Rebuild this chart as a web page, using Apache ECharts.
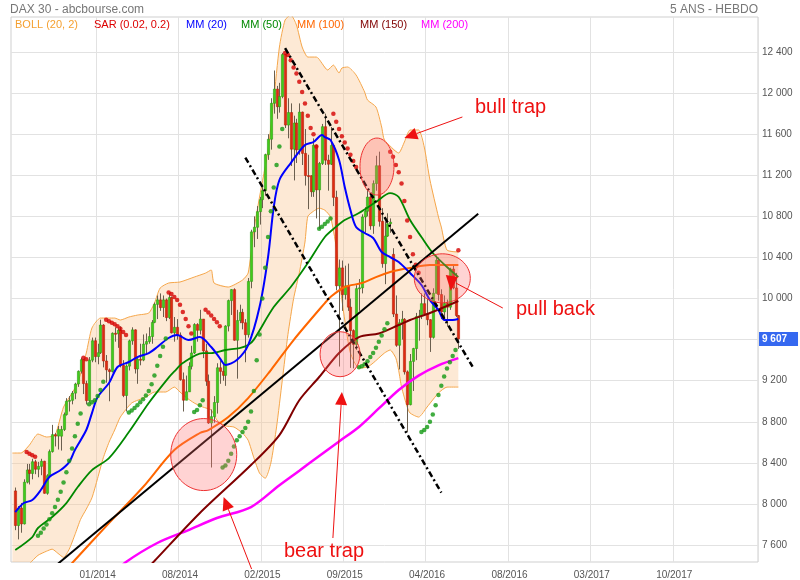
<!DOCTYPE html>
<html><head><meta charset="utf-8">
<script src="https://cdn.jsdelivr.net/npm/echarts@6/dist/echarts.min.js"></script>
<style>html,body{margin:0;padding:0;background:#fff}#c{width:800px;height:580px}</style>
</head><body><div id="c"></div>
<script>
// ---------- DATA (weekly, index 1 = week of 17/06/2013) ----------
const SLOTS = 263;
const FIRST = 1;
const tickIndex  = [30, 59, 88, 117, 146, 175, 204, 233];
const tickLabels = ['01/2014','08/2014','02/2015','09/2015','04/2016','08/2016','03/2017','10/2017'];

const opens = [8127,7790,7960,7806,8212,8331,8297,8411,8338,8366,
8416,8104,8275,8510,8675,8661,8660,8725,8870,9001,
9009,9079,9168,9292,9405,9172,9006,9400,9589,9435,
9473,9742,9392,9306,9289,9662,9657,9692,9350,9056,
9342,9588,9695,9315,9409,9401,9556,9581,9630,9768,
9943,9987,9912,9987,9815,10009,9666,9720,9644,9210,
9010,9092,9340,9470,9747,9691,9800,9490,9195,8788,
8850,8988,9326,9291,9252,9732,9980,10087,9594,9786,
9865,9764,9648,10167,10649,10694,10846,10963,11050,11401,
11551,11901,12039,11868,11967,12375,11689,11811,11454,11709,
11447,11815,11413,11197,11196,11040,11492,11058,11315,11673,
11347,11308,11490,10985,10124,10298,10038,10123,9916,9688,
9553,10096,10104,10794,10850,10988,10708,11119,11293,10752,
10340,10608,10728,10430,9849,9545,9764,9798,9286,8967,
9388,9513,9824,9831,9950,9851,9794,9622,10051,10373,
10039,9870,9952,9916,10287,10103,9834];
const closes = [7790,7959,7806,8212,8331,8297,8411,8338,8366,8416,
8104,8275,8510,8675,8661,8725,8725,8870,9001,9009,
9079,9168,9292,9405,9172,9006,9400,9589,9435,9473,
9742,9392,9306,9289,9662,9657,9692,9350,9056,9342,
9588,9695,9315,9409,9401,9556,9581,9630,9768,9943,
9987,9912,9987,9815,10009,9666,9720,9644,9210,9010,
9092,9340,9470,9747,9691,9800,9490,9195,8788,8850,
8988,9326,9291,9252,9732,9980,10087,9594,9786,9865,
9764,9648,10167,10649,10694,10846,10963,11050,11401,11551,
11901,12039,11868,11967,12375,11689,11811,11454,11709,11447,
11815,11413,11197,11196,11040,11492,11058,11315,11673,11347,
11308,11490,10985,10124,10298,10038,10123,9916,9688,9553,
10096,10104,10794,10850,10988,10708,11119,11293,10752,10340,
10608,10728,10743,9849,9545,9764,9798,9286,8967,9388,
9513,9824,9831,9950,9851,9794,9622,10051,10373,10039,
9870,9952,9916,10287,10103,9834,9607];
const highs = [8160,7980,8010,8240,8390,8390,8440,8430,8410,8440,
8420,8290,8530,8770,8690,8760,8760,8890,9030,9050,
9100,9180,9300,9424,9410,9200,9430,9620,9620,9560,
9794,9750,9450,9320,9670,9720,9710,9730,9400,9360,
9600,9720,9700,9430,9560,9650,9660,9720,9790,9960,
10030,10050,10030,10000,10050,10020,9820,9800,9670,9280,
9250,9380,9540,9760,9760,9890,9800,9560,9260,8920,
9050,9370,9400,9370,9740,9990,10090,10100,9890,9940,
9900,9800,10200,10670,10800,10900,10990,11110,11410,11600,
11950,12220,12070,12100,12390,12380,11950,11900,11780,11750,
11900,11820,11650,11400,11200,11560,11500,11330,11700,11800,
11400,11670,11500,11050,10380,10370,10320,10340,10000,9700,
10130,10190,10820,10890,11050,11000,11150,11390,11430,10880,
10750,10830,10780,10490,10030,9800,9880,9810,9300,9460,
9520,9860,9890,10050,10050,10000,9800,10100,10420,10400,
10090,10030,9990,10300,10330,10250,9840];
const lows = [7745,7655,7720,7800,8200,8190,8240,8290,8260,8280,
8100,8090,8270,8500,8560,8530,8520,8710,8860,8900,
8970,9020,9140,9270,9070,8970,8990,9380,9380,9360,
9460,9330,9180,9000,9280,9580,9520,9330,9040,8900,
9300,9550,9270,9170,9350,9390,9450,9560,9560,9760,
9800,9880,9820,9780,9800,9660,9580,9600,9200,8900,
9010,9090,9310,9460,9580,9650,9420,9150,8780,8355,
8790,8880,9170,9200,9150,9680,9840,9590,9220,9760,
9700,9380,9620,10100,10500,10580,10720,10880,11000,11350,
11450,11800,11750,11810,11950,11660,11560,11290,11150,11320,
11400,11300,11100,10870,10990,10990,10780,10677,11300,11300,
11050,11300,10900,10080,9338,9880,9990,9880,9325,9320,
9500,9880,10050,10640,10800,10670,10630,11050,10700,10300,
10140,10600,10640,9820,9530,9310,9600,9260,8699,8960,
9100,9400,9590,9800,9840,9740,9480,9610,10050,9980,
9800,9790,9730,9890,10090,9820,9510];

// indicator readings [week index, value]
const mm20 = [[1,7921],[4,8009],[7,8038],[10,8136],[13,8262],[17,8330],[20,8408],[22,8525],[26,8720],[28,8885],[30,9041],[34,9177],[37,9333],[41,9382],[44,9430],[48,9469],[51,9528],[55,9616],[58,9645],[62,9596],[66,9625],[70,9528],[73,9421],[75,9353],[79,9401],[83,9547],[87,9917],[90,10404],[92,10891],[94,11154],[98,11319],[103,11495],[106,11524],[109,11592],[110,11572],[112,11543],[115,11349],[117,11086],[119,10862],[121,10696],[124,10638],[127,10589],[130,10453],[133,10404],[136,10355],[140,10248],[144,10132],[147,9985],[150,9888],[152,9791],[155,9791],[157,9800]];
const mm50 = [[1,7551],[7,7678],[9,7766],[14,7873],[19,8009],[23,8165],[28,8330],[34,8447],[41,8700],[48,8983],[55,9230],[57,9290],[60,9372],[67,9469],[70,9469],[75,9499],[80,9518],[83,9547],[85,9600],[92,9917],[98,10112],[104,10346],[110,10599],[114,10700],[117,10764],[122,10832],[128,10940],[133,11027],[136,10988],[140,10764],[144,10599],[148,10443],[153,10307],[157,10209]];
const mm100 = [[18,7334],[22,7454],[34,7814],[46,8165],[57,8525],[66,8691],[69,8720],[76,8846],[83,9031],[91,9304],[99,9596],[110,9956],[112,10015],[117,10112],[123,10151],[128,10209],[133,10258],[136,10278],[140,10297],[147,10326],[157,10326]];
const mm150 = [[45,7300],[50,7445],[66,7912],[84,8379],[94,8671],[101,9010],[108,9236],[115,9470],[122,9625],[129,9660],[136,9742],[140,9791],[147,9859],[157,9976]];
const mm200 = [[36,7330],[40,7435],[51,7620],[62,7746],[72,7863],[84,7970],[94,8183],[101,8324],[108,8467],[115,8609],[122,8750],[129,8930],[136,9110],[143,9250],[150,9350],[157,9420]];
const bollUp = [[0,8496],[3,8496],[6,8574],[9,8681],[12,8652],[15,8671],[18,8944],[21,9080],[23,9178],[26,9470],[28,9713],[31,9810],[36,9810],[38,9791],[41,9820],[44,9839],[48,9859],[50,9956],[52,10102],[55,10151],[59,10161],[64,10209],[68,10248],[70,10278],[71,10151],[76,10112],[81,10180],[83,10248],[85,10667],[87,10988],[90,11446],[92,11933],[94,12449],[96,12712],[98,12760],[100,12663],[102,12449],[104,12351],[107,12351],[111,12225],[113,12273],[115,12196],[116,12244],[118,12254],[121,12176],[124,12011],[125,11933],[128,11865],[130,11670],[131,11543],[136,11417],[138,11524],[140,11641],[143,11641],[145,11475],[147,11154],[150,10794],[151,10696],[153,10472],[157,10453]];
const bollLo = [[0,7330],[3,7360],[6,7420],[9,7500],[12,7540],[14,7560],[16,7520],[18,7480],[20,7560],[22,7700],[24,7850],[26,7950],[28,8060],[30,8250],[32,8450],[34,8600],[36,8720],[38,8846],[42,8983],[47,9041],[50,9090],[54,9090],[57,9138],[59,9090],[61,9041],[64,8983],[67,8944],[70,8914],[72,8817],[75,8760],[78,8749],[81,8690],[83,8620],[85,8450],[87,8300],[89,8250],[91,8400],[93,8750],[95,9200],[97,9650],[99,10000],[101,10250],[103,10550],[104,10800],[106,10850],[108,10880],[110,10860],[112,10794],[114,10500],[115,10200],[117,9791],[119,9470],[122,9323],[125,9333],[127,9372],[131,9470],[133,9499],[135,9420],[136,9300],[137,9138],[139,8944],[140,8885],[143,8846],[146,8944],[150,9080],[153,9138],[157,9138]];
const sarRed = [[5,8505],[6,8490],[7,8475],[8,8460],[25,9424],[26,9410],[33,9794],[34,9780],[35,9765],[36,9750],[37,9730],[38,9705],[39,9675],[40,9645],[55,10060],[56,10045],[57,10015],[58,9985],[59,9940],[60,9870],[61,9800],[62,9730],[63,9660],[68,9890],[69,9865],[70,9835],[71,9800],[72,9770],[73,9730],[96,12390],[97,12370],[98,12320],[99,12250],[100,12190],[101,12110],[102,12010],[103,11900],[104,11780],[105,11660],[106,11600],[107,11480],[113,11800],[114,11720],[115,11650],[116,11580],[117,11520],[118,11460],[119,11400],[120,11340],[121,11280],[133,11430],[134,11380],[135,11300],[136,11230],[137,11120],[138,10950],[139,10760],[140,10600],[141,10430],[142,10330],[143,10250],[157,10470]];
const sarGreen = [[9,7690],[10,7720],[11,7760],[12,7800],[13,7850],[14,7910],[15,7970],[16,8040],[17,8120],[18,8210],[19,8310],[20,8420],[21,8540],[22,8660],[23,8780],[24,8880],[27,8970],[28,8990],[29,9010],[30,9050],[31,9110],[32,9190],[41,8890],[42,8910],[43,8935],[44,8960],[45,8990],[46,9020],[47,9055],[48,9100],[49,9165],[50,9250],[51,9345],[52,9440],[53,9530],[54,9610],[64,8895],[65,8915],[66,8960],[67,9010],[74,8355],[75,8375],[76,8420],[77,8490],[78,8560],[79,8620],[80,8660],[81,8700],[82,8740],[83,8800],[84,8900],[85,9100],[86,9400],[87,9650],[88,10000],[89,10300],[90,10600],[91,10850],[92,11080],[93,11300],[94,11480],[95,11650],[108,10680],[109,10700],[110,10725],[111,10750],[112,10780],[122,9330],[123,9340],[124,9360],[125,9390],[126,9430],[127,9470],[128,9520],[129,9580],[130,9640],[131,9700],[132,9760],[144,8700],[145,8720],[146,8750],[147,8800],[148,8870],[149,8960],[150,9060],[151,9150],[152,9240],[153,9320],[154,9380],[155,9440],[156,9500]];
const lastPrice = 9607;
// hand-drawn trend lines (week index, level)
const trendUp   = [[10,7279],[164,10826]];
const trendDn1  = [[82,11373],[151,8111]];
const trendDn2  = [[96,12437],[162,9337]];

// ---------- CHART ----------
const FONT = '"Liberation Sans", Arial, Helvetica, sans-serif';
const fmt = v => String(v).replace(/\B(?=(\d{3})+(?!\d))/g, ' ');
const categories = [];
const t0 = Date.UTC(2013, 5, 14);
for (let k = 0; k < SLOTS; k++) {
  const d = new Date(t0 + (k - 0) * 7 * 86400000 - 7 * 86400000 * 0);
  categories.push(String(d.getUTCDate()).padStart(2,'0') + '/' + String(d.getUTCMonth()+1).padStart(2,'0') + '/' + d.getUTCFullYear());
}
const candleData = closes.map((c, k) => [k + FIRST, opens[k], c, lows[k], highs[k]]);
const isTick = idx => tickIndex.indexOf(idx) >= 0;

const chart = echarts.init(document.getElementById('c'));
const lineS = (name, data, color, width, extra) => Object.assign({
  type:'line', name, data, xAxisIndex:0, yAxisIndex:0, showSymbol:false, symbol:'none',
  smooth:0.3, lineStyle:{color, width}, silent:true, z:3
}, extra || {});

chart.setOption({
  animation:false,
  backgroundColor:'#fff',
  grid:[
    {left:11, right:42, top:17, bottom:18, show:true, borderColor:'#cfcfcf', borderWidth:1, backgroundColor:'transparent'},
    {left:11, right:42, top:52, bottom:35, show:false}
  ],
  xAxis:[
    {type:'category', gridIndex:0, data:categories, boundaryGap:true,
     axisLine:{show:false}, axisTick:{show:false},
     axisLabel:{interval:(i)=>isTick(i), formatter:(v,i)=>tickLabels[tickIndex.indexOf(i)] || '', color:'#555', fontSize:10, fontFamily:FONT, margin:8},
     splitLine:{show:true, interval:(i)=>isTick(i), lineStyle:{color:'#e2e2e2', width:1}}},
    {type:'category', gridIndex:1, data:categories, show:false}
  ],
  yAxis:[
    {type:'value', gridIndex:0, min:7435, max:12741, show:false, splitLine:{show:false}},
    {type:'value', gridIndex:1, min:7600, max:12400, interval:400, position:'right',
     axisLine:{show:false}, axisTick:{show:false},
     axisLabel:{color:'#555', fontSize:10, fontFamily:FONT, margin:4, formatter:fmt},
     splitLine:{show:true, lineStyle:{color:'#e2e2e2', width:1}}}
  ],
  series:[
    {type:'custom', name:'bollFill', xAxisIndex:0, yAxisIndex:0, data:[[0, bollUp[0][1]]], encode:{x:0,y:1}, clip:true, silent:true, z:1,
     renderItem:(p, api) => {
       const pts = bollUp.map(q => api.coord(q)).concat(bollLo.slice().reverse().map(q => api.coord(q)));
       return {type:'polygon', shape:{points:pts}, style:{fill:'rgba(250,200,150,0.40)'}};
     }},
    lineS('BOLL up', bollUp, '#f5a64a', 1, {smooth:0.2, z:1}),
    lineS('BOLL lo', bollLo, '#f5a64a', 1, {smooth:0.2, z:1}),
    {type:'custom', name:'DAX 30', xAxisIndex:0, yAxisIndex:0, data:candleData, encode:{x:0, y:[1,2,3,4]}, clip:true, z:2,
     renderItem:(p, api) => {
       const i = api.value(0), o = api.value(1), c = api.value(2), lo = api.value(3), hi = api.value(4);
       const pO = api.coord([i,o]), pC = api.coord([i,c]), pL = api.coord([i,lo]), pH = api.coord([i,hi]);
       const bw = api.size([1,0])[0];
       const w = Math.max(1.5, bw * 0.78);
       const x = Math.round(pO[0]) + 0.5;
       const up = c >= o;
       const top = Math.min(pO[1], pC[1]);
       const h = Math.max(1, Math.abs(pO[1] - pC[1]));
       return {type:'group', children:[
         {type:'line', shape:{x1:x, y1:pH[1], x2:x, y2:pL[1]}, style:{stroke:'#6b5f4f', lineWidth:1}},
         {type:'rect', shape:{x:x - w/2, y:top, width:w, height:h}, style:{fill: up ? '#40cc1a' : '#e02a10', stroke: up ? '#2e9c12' : '#b4200a', lineWidth:0.6}}
       ]};
     }},
    lineS('MM (200)', mm200, '#ff00ff', 2.5),
    lineS('MM (150)', mm150, '#800000', 2),
    lineS('MM (100)', mm100, '#ff6600', 2),
    lineS('MM (50)', mm50, '#008800', 1.8),
    lineS('MM (20)', mm20, '#0000ff', 2),
    {type:'scatter', name:'SAR up', data:sarGreen, xAxisIndex:0, yAxisIndex:0, symbolSize:4.5, itemStyle:{color:'#119911'}, silent:true, z:4},
    {type:'scatter', name:'SAR dn', data:sarRed, xAxisIndex:0, yAxisIndex:0, symbolSize:4.5, itemStyle:{color:'#d40000'}, silent:true, z:4,
     markLine:{silent:true, symbol:['none','none'], data:[{yAxis:lastPrice}], lineStyle:{color:'rgba(0,0,0,0)', width:0},
       label:{show:true, position:'end', distance:1, formatter:fmt(lastPrice), color:'#fff', backgroundColor:'#3568f0', padding:[2,11,2,3], fontSize:10, fontWeight:'bold', fontFamily:FONT}}},
    lineS('trend up', trendUp, '#000', 2, {smooth:false, z:5}),
    lineS('trend dn1', trendDn1, '#000', 2.5, {smooth:false, z:5, lineStyle:{color:'#000', width:2.5, type:[6,3,2,3]}}),
    lineS('trend dn2', trendDn2, '#000', 2.5, {smooth:false, z:5, lineStyle:{color:'#000', width:2.5, type:[6,3,2,3]}})
  ]
});

// ---------- annotations ----------
const px = (i, v) => chart.convertToPixel({xAxisIndex:0, yAxisIndex:0}, [i, v]);
const RED = '#ee1111';
const g = [];
const txt = (x, y, text, fill, size, align) => g.push({type:'text', x, y, z:100, style:{text, fill, font: size + 'px ' + FONT, align: align || 'left', verticalAlign:'middle'}});
txt(10, 10, 'DAX 30 - abcbourse.com', '#777', 12);
txt(758, 10, '5 ANS - HEBDO', '#777', 12, 'right');
[['BOLL (20, 2)', '#f5a030', 15], ['SAR (0.02, 0.2)', '#dd0000', 94], ['MM (20)', '#0000ff', 186], ['MM (50)', '#008800', 241],
 ['MM (100)', '#ff6600', 297], ['MM (150)', '#800000', 360], ['MM (200)', '#ff00ff', 421]].forEach(a => txt(a[2], 25, a[0], a[1], 11));

const circles = [{i:67, v:8481, rx:33, ry:36}, {i:115, v:9458, rx:20, ry:22.5}, {i:128, v:11285, rx:17, ry:28.5}, {i:151, v:10197, rx:28, ry:24.5}];
circles.forEach(c => {
  const p = px(c.i, c.v);
  g.push({type:'ellipse', z:90, shape:{cx:p[0] + 1, cy:p[1], rx:c.rx, ry:c.ry}, style:{fill:'rgba(255,110,110,0.30)', stroke:'#ee3333', lineWidth:1}});
});
function arrow(tip, tail) {
  const dx = tip[0] - tail[0], dy = tip[1] - tail[1], L = Math.hypot(dx, dy);
  const ux = dx / L, uy = dy / L, hl = 13, hw = 6;
  const bx = tip[0] - ux * hl, by = tip[1] - uy * hl;
  g.push({type:'line', z:95, shape:{x1:tail[0], y1:tail[1], x2:bx, y2:by}, style:{stroke:RED, lineWidth:1}});
  g.push({type:'polygon', z:95, shape:{points:[[tip[0], tip[1]], [bx - uy * hw, by + ux * hw], [bx + uy * hw, by - ux * hw]]}, style:{fill:RED}});
}
const aBull = px(138, 11563); arrow(aBull, [aBull[0] + 58, aBull[1] - 21]);
const aBear1 = px(116, 9090); arrow(aBear1, [aBear1[0] - 9, aBear1[1] + 146]);
const aBear2 = px(74, 8067); arrow([aBear2[0] + 1, aBear2[1]], [aBear2[0] + 29, aBear2[1] + 72]);
const aPull = px(154, 10073);
g.push({type:'line', z:95, shape:{x1:aPull[0] + 53, y1:aPull[1] + 17, x2:aPull[0] + 6, y2:aPull[1] - 8}, style:{stroke:RED, lineWidth:1}});
g.push({type:'polygon', z:95, shape:{points:[[aPull[0] - 4, aPull[1] - 16], [aPull[0] + 8, aPull[1] - 14], [aPull[0] + 1, aPull[1]]]}, style:{fill:RED}});
txt(475, 107, 'bull trap', RED, 20);
txt(516, 309, 'pull back', RED, 20);
txt(284, 551, 'bear trap', RED, 20);
chart.setOption({graphic:g});
</script>
</body></html>
